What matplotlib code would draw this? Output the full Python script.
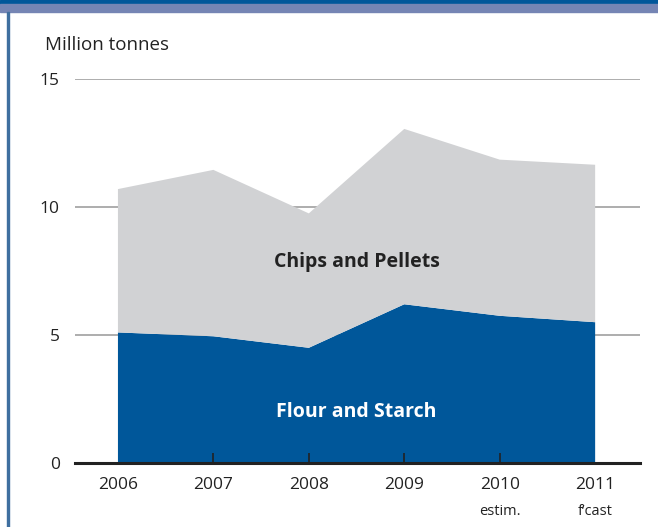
import numpy as np
import matplotlib.pyplot as plt
from matplotlib.patches import Rectangle

plt.rcParams['font.family'] = ['Open Sans', 'DejaVu Sans']

# ─── Data ────────────────────────────────────────────────────────────────
years = ["2006", "2007", "2008", "2009", "2010", "2011"]
sublabels = ["", "", "", "", "estim.", "f\u2019cast"]
flour_starch = [5.1, 4.95, 4.5, 6.2, 5.75, 5.5]
chips_pellets = [5.6, 6.5, 5.25, 6.85, 6.1, 6.15]

BLUE = "#00579a"
GREY = "#d1d2d4"
INK = "#222222"

fig = plt.figure(figsize=(6.58, 5.27), dpi=100)
ax = fig.add_axes([75 / 658, 1 - 463 / 527, (640 - 75) / 658, (463 - 79) / 527])

x = np.arange(len(years))
ax.stackplot(x, flour_starch, chips_pellets, colors=[BLUE, GREY], zorder=2)

ax.set_xlim(-0.45, len(years) - 1 + 0.47)
ax.set_ylim(0, 15)
ax.set_yticks([0, 5, 10, 15])
ax.tick_params(axis="y", length=0, labelsize=12.5, pad=11, colors=INK)
for yv in [5, 10, 15]:
    ax.axhline(yv, color="#a0a0a0", lw=1.2, zorder=1)

for s in ["top", "right", "left"]:
    ax.spines[s].set_visible(False)
ax.spines["bottom"].set_linewidth(2.2)
ax.spines["bottom"].set_color(INK)
ax.spines["bottom"].set_zorder(4)

ax.set_xticks(x[1:-1])
ax.set_xticklabels([])
ax.xaxis.set_zorder(4)
ax.tick_params(axis="x", direction="in", length=7, width=1.2, color=INK)
for xi, yr, sub in zip(x, years, sublabels):
    ax.text(xi, -0.55, yr, ha="center", va="top", fontsize=12.5, color=INK)
    if sub:
        ax.text(xi, -1.6, sub, ha="center", va="top", fontsize=10.5, color=INK)

ax.text(2.5, 7.85, "Chips and Pellets", ha="center", va="center",
        fontsize=14, fontweight="bold", color=INK, zorder=5)
ax.text(2.5, 2.0, "Flour and Starch", ha="center", va="center",
        fontsize=14, fontweight="bold", color="white", zorder=5)

fig.text(45 / 658, 1 - 45 / 527, "Million tonnes", ha="left", va="center",
         fontsize=13.5, color=INK)

# frame decoration
fig.patches.append(Rectangle((0, 1 - 4 / 527), 1, 4 / 527, transform=fig.transFigure,
                             color=BLUE, zorder=0))
fig.patches.append(Rectangle((0, 1 - 12 / 527), 1, 8 / 527, transform=fig.transFigure,
                             color="#7585b4", zorder=0))
fig.patches.append(Rectangle((7 / 658, 0), 1.5 / 658, 1 - 12 / 527, transform=fig.transFigure,
                             color="#3f6f9f", zorder=0))

fig.savefig("out.png", dpi=100)
